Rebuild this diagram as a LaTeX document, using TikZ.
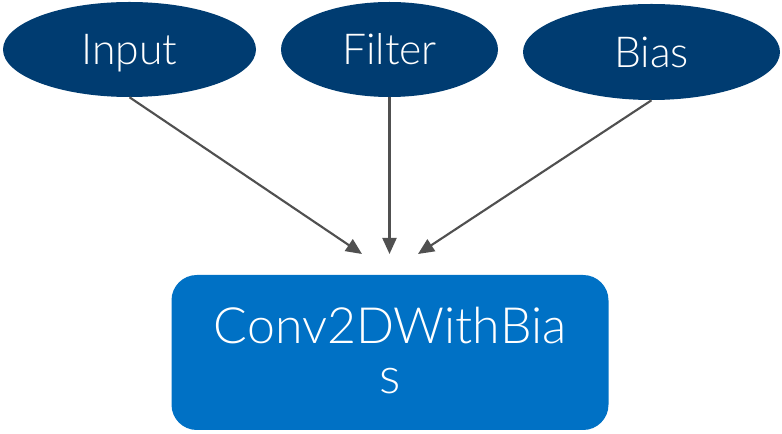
\documentclass[tikz,border=0pt]{standalone}
\usepackage{fontspec}
\setmainfont{Lato}[UprightFont=* Light]
\usetikzlibrary{arrows.meta,shapes.geometric}
\definecolor{inputblue}{HTML}{003C71}
\definecolor{opblue}{HTML}{0071C5}
\definecolor{edgegray}{HTML}{505050}
\tikzset{
  tensor/.style={ellipse, fill=inputblue, text=white, inner sep=0pt,
    text height=23pt, text depth=0pt,
    font=\fontsize{32pt}{38pt}\selectfont},
  opbox/.style={rectangle, rounded corners=19pt, fill=opblue, text=white,
    inner sep=0pt, align=center, text depth=3pt,
    font=\fontsize{37.5pt}{37.5pt}\selectfont},
  flow/.style={draw=edgegray, line width=1.6pt,
    -{Triangle[length=12pt,width=10.5pt]}}
}
\begin{document}
\begin{tikzpicture}[x=0.75pt, y=-0.75pt]
  \useasboundingbox (0,0) rectangle (782,434);
  % input tensors
  \node[tensor, minimum width=189.75pt, minimum height=71.25pt] (in) at (129.5,49.5) {Input};
  \node[tensor, minimum width=162.75pt, minimum height=71.25pt] (flt) at (389.5,49.5) {Filter};
  \node[tensor, minimum width=192.75pt, minimum height=72pt] (bias) at (651.5,52) {Bias};
  % fused operation
  \node[opbox, minimum width=327.75pt, minimum height=116.25pt] (op) at (390,352.5) {Conv2DWithBia\\s};
  % arrow tips stop short of the operation box
  \coordinate (tin) at (362,254);
  \coordinate (tflt) at (389.5,254);
  \coordinate (tbias) at (418,254);
  \draw[flow] (in.south) -- (tin);
  \draw[flow] (flt.south) -- (tflt);
  \draw[flow] (bias.south) -- (tbias);
\end{tikzpicture}
\end{document}
